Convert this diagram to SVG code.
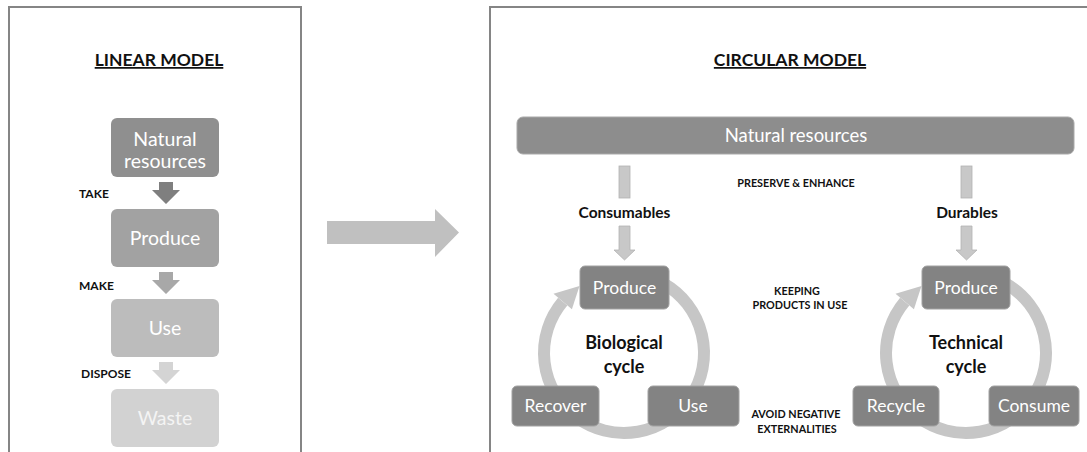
<svg xmlns="http://www.w3.org/2000/svg" width="1087" height="452" viewBox="0 0 1087 452">
<style>
.panel{fill:#fff;stroke:#858585;stroke-width:2}
.title{font-family:Lato,"Liberation Sans",sans-serif;font-weight:bold;font-size:17.5px;fill:#111;text-decoration:underline}
.lbl{font-family:Lato,"Liberation Sans",sans-serif;font-weight:bold;font-size:12px;fill:#111}
.slbl{font-family:Lato,"Liberation Sans",sans-serif;font-weight:bold;font-size:10.8px;fill:#111}
.mlbl{font-family:Lato,"Liberation Sans",sans-serif;font-weight:bold;font-size:15.5px;fill:#111}
.btxt{font-family:Lato,"Liberation Sans",sans-serif;font-size:17.5px;fill:#fff}
.ntxt{font-family:Lato,"Liberation Sans",sans-serif;font-size:18.5px;fill:#fff}
.ltxt{font-family:Lato,"Liberation Sans",sans-serif;font-size:19.5px;fill:#fff}
.ctxt{font-family:Lato,"Liberation Sans",sans-serif;font-weight:bold;font-size:18px;fill:#111}
.cbox{fill:#838383;stroke:#a2a2a2;stroke-width:1}
.ring{fill:none;stroke:#c6c6c6;stroke-width:12}
.ringhead{fill:#c6c6c6}
.varrow{fill:#c8c8c8;stroke:#b2b2b2;stroke-width:0.8}
</style>
<rect class="panel" x="9" y="7" width="292" height="460"/>
<rect class="panel" x="490" y="7" width="610" height="460"/>
<text class="title" x="159" y="66" text-anchor="middle">LINEAR MODEL</text>
<text class="title" x="790" y="66" text-anchor="middle">CIRCULAR MODEL</text>

<g id="lin-natural">
<rect x="111" y="118" width="108" height="59" rx="6" fill="#8f8f8f"/>
<text class="ltxt" x="165" y="146" text-anchor="middle">Natural</text>
<text class="ltxt" x="165" y="168" text-anchor="middle">resources</text>
</g>
<g id="lin-produce">
<rect x="111" y="209" width="108" height="58" rx="6" fill="#a2a2a2"/>
<text class="ltxt" x="165" y="245" text-anchor="middle">Produce</text>
</g>
<g id="lin-use">
<rect x="111" y="299" width="108" height="58" rx="6" fill="#bcbcbc"/>
<text class="ltxt" x="165" y="335" text-anchor="middle">Use</text>
</g>
<g id="lin-waste">
<rect x="111" y="389" width="108" height="58" rx="6" fill="#d2d2d2"/>
<text class="ltxt" x="165" y="425" text-anchor="middle" style="fill:#f4f4f4">Waste</text>
</g>

<g id="connectors">
<polygon points="159,182 173,182 173,190 180,190 166,204 152,190 159,190" fill="#7f7f7f"/>
<polygon points="159,272 173,272 173,280 180,280 166,294 152,280 159,280" fill="#a8a8a8"/>
<polygon points="159,362 173,362 173,370 180,370 166,384 152,370 159,370" fill="#d4d4d4"/>
<polygon points="327,221 435,221 435,209 459,232.5 435,257 435,244 327,244" fill="#c0c0c0"/>
<rect class="varrow" x="619" y="166" width="11" height="32"/>
<polygon class="varrow" points="619,226 630,226 630,250 635,250 624.5,260 614,250 619,250"/>
<rect class="varrow" x="961" y="166" width="11" height="32"/>
<polygon class="varrow" points="961,226 972,226 972,250 977,250 966.5,260 956,250 961,250"/>
<path class="ring" d="M664,283.7 A80,80 0 1 1 562.7,301.6"/>
<polygon class="ringhead" points="571.9,309.3 553.5,293.8 579.5,286"/>
<path class="ring" d="M1006,283.7 A80,80 0 1 1 904.7,301.6"/>
<polygon class="ringhead" points="913.9,309.3 895.5,293.8 921.5,286"/>
</g>

<g id="labels">
<text class="lbl" x="79" y="198">TAKE</text>
<text class="lbl" x="79" y="290">MAKE</text>
<text class="lbl" x="81" y="378">DISPOSE</text>
<text class="slbl" x="796" y="187" text-anchor="middle">PRESERVE &amp; ENHANCE</text>
<text class="slbl" x="797" y="295" text-anchor="middle">KEEPING</text>
<text class="slbl" x="800" y="309" text-anchor="middle">PRODUCTS IN USE</text>
<text class="slbl" x="796" y="418" text-anchor="middle">AVOID NEGATIVE</text>
<text class="slbl" x="797" y="433" text-anchor="middle">EXTERNALITIES</text>
<text class="mlbl" x="624.5" y="218" text-anchor="middle">Consumables</text>
<text class="mlbl" x="967" y="218" text-anchor="middle">Durables</text>
</g>

<g id="natural-resources">
<rect x="517" y="117" width="557" height="37" rx="6" fill="#8d8d8d" stroke="#a9a9a9"/>
<text class="ntxt" x="796" y="142" text-anchor="middle">Natural resources</text>
</g>

<g id="bio-produce">
<rect class="cbox" x="580" y="266" width="89" height="43" rx="5"/>
<text class="btxt" x="624.5" y="294" text-anchor="middle">Produce</text>
</g>
<g id="bio-use">
<rect class="cbox" x="648" y="386" width="91" height="40" rx="5"/>
<text class="btxt" x="693" y="412" text-anchor="middle">Use</text>
</g>
<g id="bio-recover">
<rect class="cbox" x="512" y="386" width="87" height="40" rx="5"/>
<text class="btxt" x="555.5" y="412" text-anchor="middle">Recover</text>
</g>
<g id="bio-label">
<text class="ctxt" x="624" y="349" text-anchor="middle">Biological</text>
<text class="ctxt" x="624" y="373" text-anchor="middle">cycle</text>
</g>

<g id="tech-produce">
<rect class="cbox" x="922" y="266" width="88" height="43" rx="5"/>
<text class="btxt" x="966" y="294" text-anchor="middle">Produce</text>
</g>
<g id="tech-consume">
<rect class="cbox" x="989" y="386" width="90" height="40" rx="5"/>
<text class="btxt" x="1034" y="412" text-anchor="middle">Consume</text>
</g>
<g id="tech-recycle">
<rect class="cbox" x="853" y="386" width="86" height="40" rx="5"/>
<text class="btxt" x="896" y="412" text-anchor="middle">Recycle</text>
</g>
<g id="tech-label">
<text class="ctxt" x="966" y="349" text-anchor="middle">Technical</text>
<text class="ctxt" x="966" y="373" text-anchor="middle">cycle</text>
</g>
</svg>
